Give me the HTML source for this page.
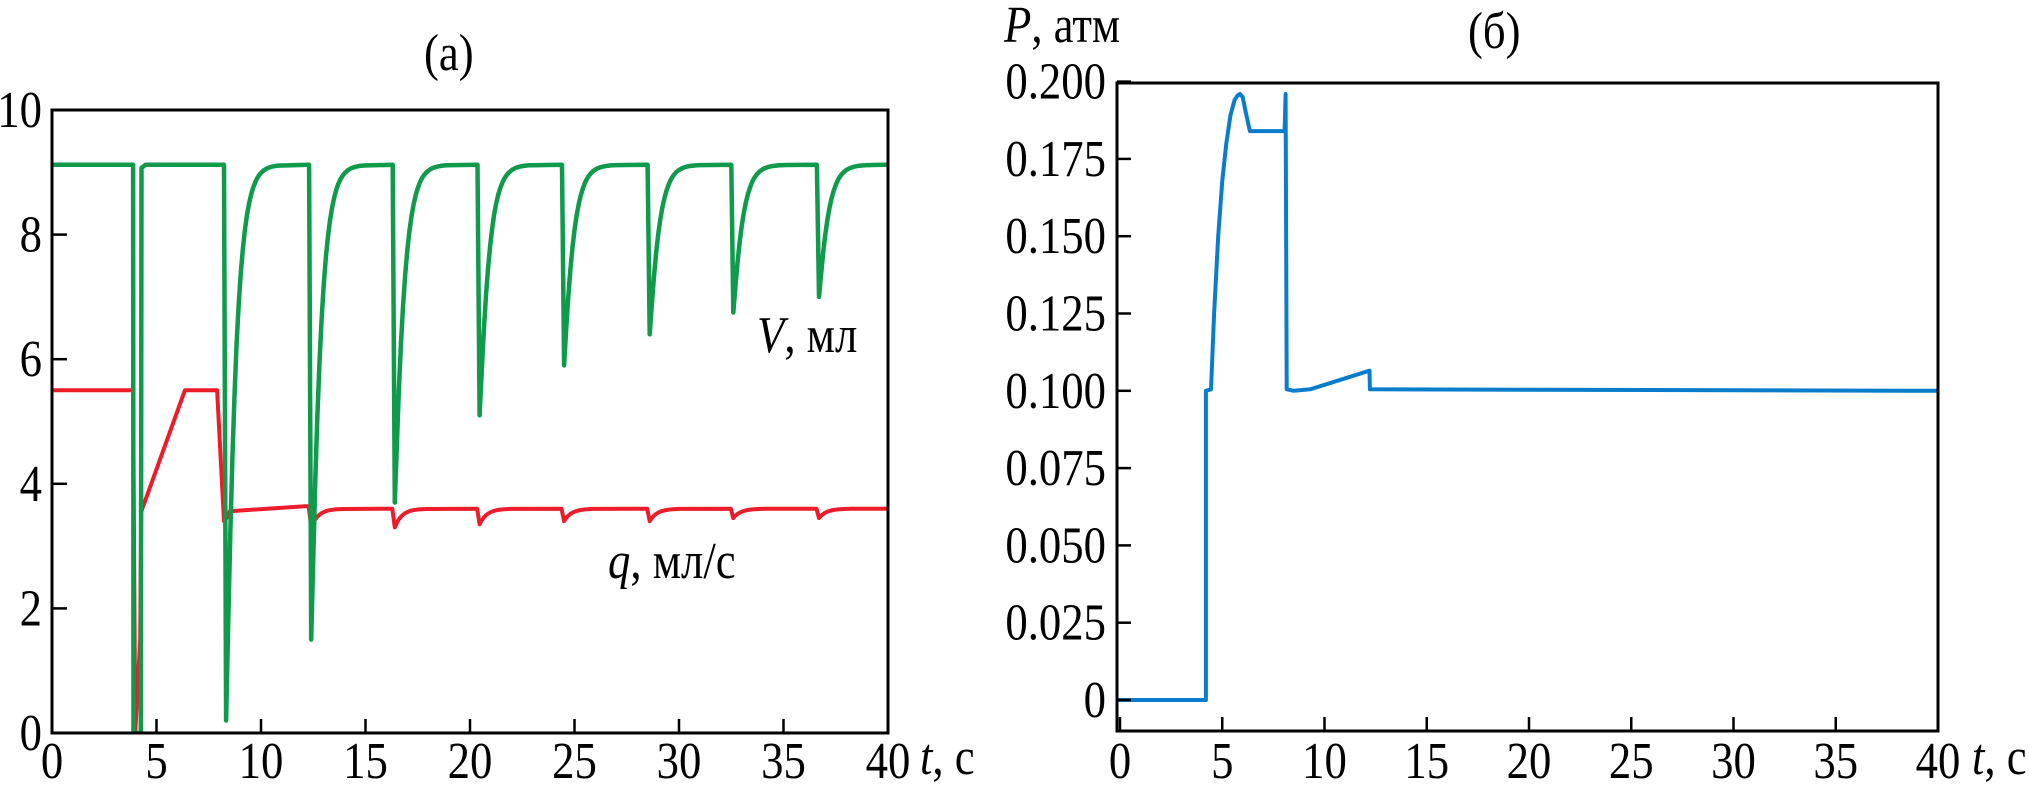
<!DOCTYPE html>
<html><head><meta charset="utf-8">
<style>
html,body{margin:0;padding:0;background:#fff;}
svg{display:block;font-family:"Liberation Serif",serif;}
.lab{position:absolute;white-space:nowrap;transform:scaleX(0.86);transform-origin:0 0;}
</style></head>
<body>
<svg id="fig" width="2029" height="801" viewBox="0 0 2029 801" xmlns="http://www.w3.org/2000/svg">
  <g id="panelA"></g>
  <g id="panelB"></g>
</svg>
<script>
// ---- Panel (a) data ----
const dipTimes = [3.88, 8.23, 12.3, 16.3, 20.36, 24.4, 28.5, 32.5, 36.6];
const vMins = [0, 0.2, 1.5, 3.7, 5.1, 5.9, 6.4, 6.75, 7.0];
const qMins = [0, 3.4, 3.3, 3.3, 3.35, 3.4, 3.4, 3.45, 3.45];
const vBase = 9.12;
const qStart = 5.5;
const qRampStart = [4.27, 3.55];
const qRampEnd = [6.36, 5.5];
const qPlateauEnd = 7.9;
const qSecond = [8.5, 3.56, 12.1, 3.64];
const qBase = 3.6;
const xTicksA = [0, 5, 10, 15, 20, 25, 30, 35, 40];
const yTicksA = [0, 2, 4, 6, 8, 10];

// ---- Panel (б) data ----
const pT = [-0.15, 4.2, 4.2, 4.45, 4.6, 4.8, 5.0, 5.2, 5.4, 5.6, 5.75, 5.87, 6.0, 6.15, 6.35, 8.05, 8.1, 8.15, 8.5, 9.3, 12.2, 12.22, 40];
const pV = [0, 0, 0.1, 0.1005, 0.125, 0.15, 0.168, 0.18, 0.189, 0.194, 0.1955, 0.196, 0.195, 0.19, 0.184, 0.184, 0.196, 0.1005, 0.1, 0.1005, 0.1065, 0.1005, 0.1];
const xTicksB = [0, 5, 10, 15, 20, 25, 30, 35, 40];
const yTicksB = [0, 0.025, 0.05, 0.075, 0.1, 0.125, 0.15, 0.175, 0.2];
const yTickLabelsB = ["0", "0.025", "0.050", "0.075", "0.100", "0.125", "0.150", "0.175", "0.200"];

const NS = "http://www.w3.org/2000/svg";
const FS = 52;
const SX = 0.86;
function mk(parent, tag, attrs, text) {
  const el = document.createElementNS(NS, tag);
  for (const k in attrs) el.setAttribute(k, attrs[k]);
  if (text !== undefined) el.textContent = text;
  parent.appendChild(el);
  return el;
}
function label(parent, x, y, anchor, str) {
  return mk(parent, 'text', {x: 0, y: 0, transform: 'translate(' + x + ',' + y + ') scale(' + SX + ',1)', 'text-anchor': anchor, 'font-size': FS}, str);
}

const A = {x0: 52, x1: 888, y0: 733, y1: 110, xmin: 0, xmax: 40, ymin: 0, ymax: 10};
const xA = t => A.x0 + (t - A.xmin) / (A.xmax - A.xmin) * (A.x1 - A.x0);
const yA = v => A.y0 - (v - A.ymin) / (A.ymax - A.ymin) * (A.y0 - A.y1);
const B = {x0: 1117, x1: 1938, y0: 731, y1: 83};
const xB = t => 1120 + t * 20.45;
const yB = p => 700 - p * 3092;

// ---------- Panel A ----------
const gA = document.getElementById('panelA');
let vPts = [[0, vBase]];
dipTimes.forEach((t, i) => {
  if (i === 0) {
    vPts.push([t, vBase], [t + 0.02, vMins[i]], [t + 0.37, vMins[i]], [t + 0.4, vBase - 0.05], [t + 0.6, vBase]);
  } else {
    vPts.push([t, vBase], [t + 0.1, vMins[i]]);
    const depth = vBase - vMins[i];
    for (let k = 1; k <= 25; k++) {
      const dt = k * 0.1;
      vPts.push([t + 0.1 + dt, vBase - depth * Math.exp(-Math.pow(dt / 0.45, 1.1))]);
    }
  }
});
vPts.push([40, vBase]);

let qPts = [[0, qStart], [dipTimes[0], qStart], [dipTimes[0] + 0.1, qMins[0]], [qRampStart[0] - 0.05, qMins[0] + 1.5], qRampStart, qRampEnd, [qPlateauEnd, qRampEnd[1]], [dipTimes[1], qMins[1]]];
qPts.push([dipTimes[1] + 0.12, 3.45], [dipTimes[1] + 0.25, 3.53], [qSecond[0], qSecond[1]], [qSecond[2], qSecond[3]]);
dipTimes.forEach((t, i) => {
  if (i < 2) return;
  qPts.push([t - 0.02, i === 2 ? qSecond[3] : qBase], [t + 0.1, qMins[i]]);
  const depth = qBase - qMins[i];
  for (let k = 1; k <= 15; k++) {
    const dt = k * 0.1;
    qPts.push([t + 0.1 + dt, qBase - depth * Math.exp(-dt / 0.35)]);
  }
});
qPts.push([40, qBase]);

const clipA = mk(gA, 'clipPath', {id: 'clipA'});
mk(clipA, 'rect', {x: A.x0, y: A.y1, width: A.x1 - A.x0, height: A.y0 - A.y1});

const qLine = mk(gA, 'polyline', {points: qPts.map(p => xA(p[0]).toFixed(1) + ',' + yA(p[1]).toFixed(1)).join(' '), fill: 'none', stroke: '#ec1c2a', 'stroke-width': 4, 'stroke-linejoin': 'round', 'clip-path': 'url(#clipA)'});


const vLine = mk(gA, 'polyline', {points: vPts.map(p => xA(p[0]).toFixed(1) + ',' + yA(p[1]).toFixed(1)).join(' '), fill: 'none', stroke: '#0f9a4c', 'stroke-width': 4.5, 'stroke-linejoin': 'round', 'clip-path': 'url(#clipA)'});



const frameA = mk(gA, 'rect', {x: A.x0, y: A.y1, width: A.x1 - A.x0, height: A.y0 - A.y1, fill: 'none', stroke: '#000', 'stroke-width': 3});



xTicksA.forEach(t => {
  const tk = mk(gA, 'line', {x1: xA(t), x2: xA(t), y1: A.y0, y2: A.y0 - 14, stroke: '#000', 'stroke-width': 2.5});
  
  
  const lb = label(gA, xA(t), 778, 'middle', String(t));
  
  
});
yTicksA.forEach(v => {
  const tk = mk(gA, 'line', {x1: A.x0, x2: A.x0 + 15, y1: yA(v), y2: yA(v), stroke: '#000', 'stroke-width': 2.5});
  
  
  const lb = label(gA, 42, yA(v) + 17, 'end', String(v));
  
  
});

// ---------- Panel B ----------
const gB = document.getElementById('panelB');
const pLine = mk(gB, 'polyline', {points: pT.map((t, i) => xB(t).toFixed(1) + ',' + yB(pV[i]).toFixed(1)).join(' '), fill: 'none', stroke: '#0a7ccc', 'stroke-width': 4, 'stroke-linejoin': 'round'});



const frameB = mk(gB, 'rect', {x: B.x0, y: B.y1, width: B.x1 - B.x0, height: B.y0 - B.y1, fill: 'none', stroke: '#000', 'stroke-width': 3});



xTicksB.forEach(t => {
  const tk = mk(gB, 'line', {x1: xB(t), x2: xB(t), y1: B.y0, y2: B.y0 - 14, stroke: '#000', 'stroke-width': 2.5});
  
  
  const lb = label(gB, xB(t), 778, 'middle', String(t));
  
  
});
yTicksB.forEach((p, i) => {
  const tk = mk(gB, 'line', {x1: B.x0, x2: B.x0 + 14, y1: yB(p), y2: yB(p), stroke: '#000', 'stroke-width': 2.5});
  
  
  const lb = label(gB, 1106, yB(p) + 17, 'end', yTickLabelsB[i]);
  
  
});
</script>
<div style="position:absolute;left:0;top:0;width:2029px;height:801px;pointer-events:none;font-family:'Liberation Serif',serif;font-size:52px;color:#000;">
  <div class="lab" style="left:424px;top:24px;">(а)</div>
  <div class="lab" style="left:1468px;top:2px;">(б)</div>
  <div class="lab" style="left:1004px;top:-4px;"><i>P</i>, атм</div>
  <div class="lab" style="left:757px;top:306px;"><i>V</i>, мл</div>
  <div class="lab" style="left:608px;top:532px;"><i>q</i>, мл/с</div>
  <div class="lab" style="left:920px;top:728px;"><i>t</i>, с</div>
  <div class="lab" style="left:1972px;top:728px;"><i>t</i>, с</div>
</div>
</body></html>
